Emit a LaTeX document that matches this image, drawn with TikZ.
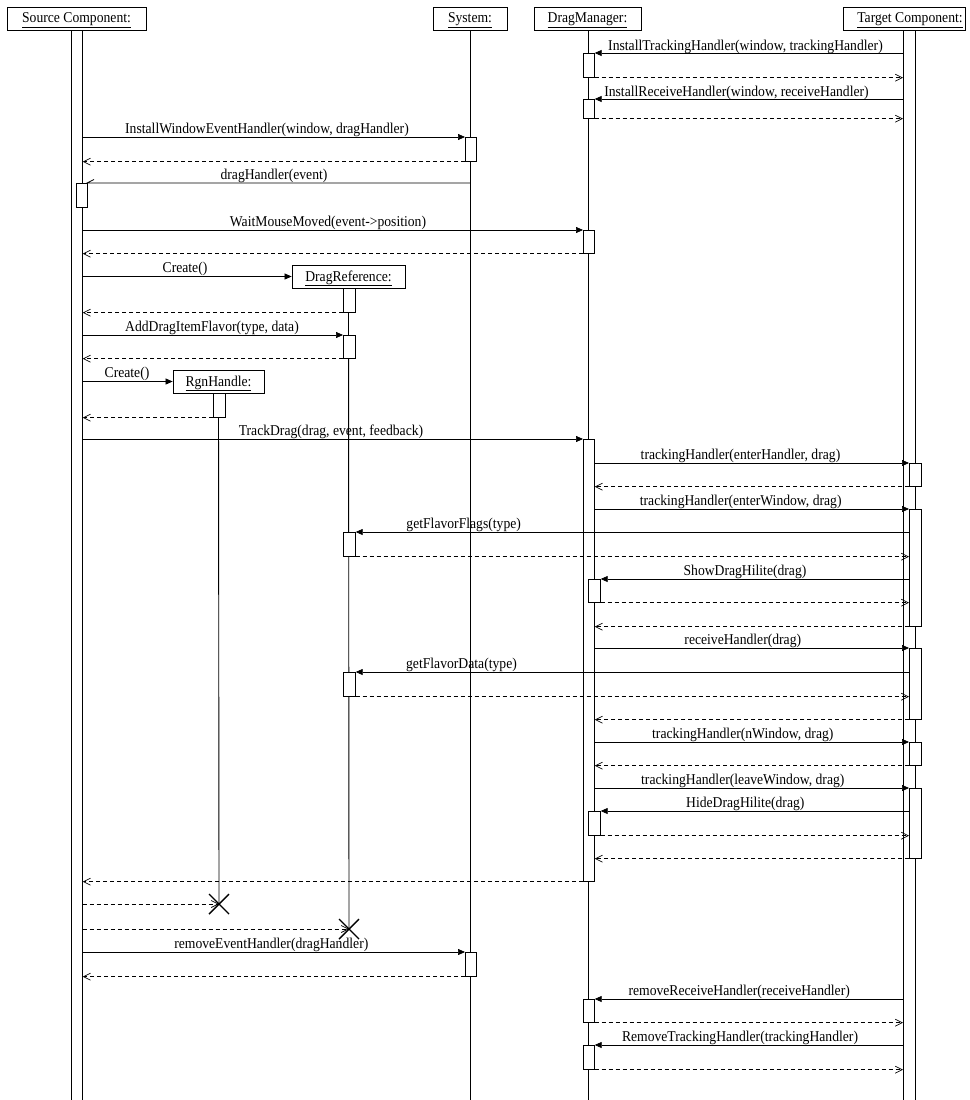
\documentclass[tikz,border=0pt]{standalone}
\usepackage{fontspec}
\usepackage{graphicx}
\setmainfont{Liberation Serif}
\usetikzlibrary{arrows.meta,calc}
\newcommand{\lbl}{\fontsize{15}{17}\selectfont}
\newcommand{\cond}[1]{\scalebox{0.91}[1]{#1}}
\tikzset{
  hdr/.style={draw, line width=0.8pt, inner sep=0pt, minimum height=23pt, fill=white},
  htext/.style={anchor=base, inner sep=0pt, font=\lbl},
  act/.style={draw, fill=white, minimum width=11pt, inner sep=0pt, anchor=north west, line width=0.7pt},
  life/.style={line width=0.9pt},
  call/.style={-{Triangle[length=7pt,width=6pt]}, line width=0.7pt},
  ret/.style={-{Straight Barb[length=7pt,width=7pt,line width=0.7pt]}, dash pattern=on 4pt off 3pt, line width=0.7pt},
  solid msg/.style={line width=0.7pt},
  msg/.style={anchor=base, inner sep=0pt, font=\lbl},
  destroy/.style={line width=1.4pt},
}
\begin{document}
\begin{tikzpicture}[x=1pt,y=-1pt]
\useasboundingbox (0,0) rectangle (969,1100);
\fill[white] (0,0) rectangle (969,1100);

% ---- headers ----
\node[hdr, minimum width=139pt] (hsrc) at (76.5,18.5) {};
\node[htext] (tsrc) at (76.5,23) {\cond{\underline{Source Component:}}};
\node[hdr, minimum width=74pt] (hsys) at (470,18.5) {};
\node[htext] (tsys) at (470,23) {\cond{\underline{System:}}};
\node[hdr, minimum width=107pt] (hdm) at (587.5,18.5) {};
\node[htext] (tdm) at (587.5,23) {\cond{\underline{DragManager:}}};
\node[hdr, minimum width=122pt] (htgt) at (904,18.5) {};
\node[htext] (ttgt) at (910,23) {\cond{\underline{Target Component:}}};

% ---- main bars ----
\node[act, minimum height=1080pt] (sbar) at (71,30) {};
\node[act, minimum width=12pt, minimum height=1080pt] (tbar) at (903,30) {};

% ---- lifelines ----
\draw[life] (hsys.south) -- (hsys.south |- sbar.south);
\draw[life] (588,30) coordinate (dmtop) -- (dmtop |- sbar.south);

% created objects
\node[hdr, minimum width=113pt] (hdref) at (348.5,276.5) {};
\node[htext] (tdref) at (348.5,281) {\cond{\underline{DragReference:}}};
\node[hdr, minimum width=91pt] (hrgn) at (218.5,381.5) {};
\node[htext] (trgn) at (218.5,386) {\cond{\underline{RgnHandle:}}};
\coordinate (x1) at (219,904);
\coordinate (x2) at (349,929);
\draw[life] (hrgn.south) -- (x1);
\draw[life] (hdref.south) -- (x2);

% ---- activations ----
\node[act, minimum height=24pt] (a1) at (583,53) {};
\node[act, minimum height=19pt] (a2) at (583,99) {};
\node[act, minimum height=24pt] (a3) at (465,137) {};
\node[act, minimum height=23pt] (a5) at (583,230) {};
\node[act, minimum width=12pt, minimum height=24pt] (a6) at (343,288) {};
\node[act, minimum width=12pt, minimum height=23pt] (a7) at (343,335) {};
\node[act, minimum width=12pt, minimum height=24pt] (a8) at (213,393) {};
\node[act, minimum height=442pt] (a9) at (583,439) {};
\node[act, minimum width=12pt, minimum height=23pt] (a10) at (909,463) {};
\node[act, minimum width=12pt, minimum height=117pt] (a11) at (909,509) {};
\node[act, minimum width=12pt, minimum height=24pt] (a12) at (343,532) {};
\node[act, minimum width=12pt, minimum height=23pt] (a13) at (588,579) {};
\node[act, minimum width=12pt, minimum height=71pt] (a14) at (909,648) {};
\node[act, minimum width=12pt, minimum height=24pt] (a15) at (343,672) {};
\node[act, minimum width=12pt, minimum height=23pt] (a16) at (909,742) {};
\node[act, minimum width=12pt, minimum height=70pt] (a17) at (909,788) {};
\node[act, minimum width=12pt, minimum height=24pt] (a18) at (588,811) {};
\node[act, minimum height=24pt] (a19) at (465,952) {};
\node[act, minimum height=23pt] (a20) at (583,999) {};
\node[act, minimum height=24pt] (a21) at (583,1045) {};

% ---- messages ----
\draw[call] (a1.north east -| tbar.west) -- (a1.north east);
\node[msg] (l1) at (745.5,50.5) {\cond{InstallTrackingHandler(window, trackingHandler)}};
\draw[ret] (a1.south east) -- (a1.south east -| tbar.west);

\draw[call] (a2.north east -| tbar.west) -- (a2.north east);
\node[msg] (l2) at (736.5,96.5) {\cond{InstallReceiveHandler(window, receiveHandler)}};
\draw[ret] (a2.south east) -- (a2.south east -| tbar.west);

\draw[call] (a3.north west -| sbar.east) -- (a3.north west);
\node[msg] (l3) at (267,133.5) {\cond{InstallWindowEventHandler(window, dragHandler)}};
\draw[ret] (a3.south west) -- (a3.south west -| sbar.east);

\coordinate (a4tl) at (76,183);
\coordinate (a4tr) at (87,183);
\draw[solid msg] (a4tr -| hsys.south) -- (a4tr) -- ++(7,-3.5);
\node[act, minimum height=24pt] (a4) at (a4tl) {};
\node[msg] (l4) at (274,179.5) {\cond{dragHandler(event)}};

\draw[call] (a5.north west -| sbar.east) -- (a5.north west);
\node[msg] (l5) at (328,226.5) {\cond{WaitMouseMoved(event->position)}};
\draw[ret] (a5.south west) -- (a5.south west -| sbar.east);

\draw[call] (hdref.west -| sbar.east) -- (hdref.west);
\node[msg] (l6) at (185,272.5) {\cond{Create()}};
\draw[ret] (a6.south west) -- (a6.south west -| sbar.east);

\draw[call] (a7.north west -| sbar.east) -- (a7.north west);
\node[msg] (l7) at (212,331.5) {\cond{AddDragItemFlavor(type, data)}};
\draw[ret] (a7.south west) -- (a7.south west -| sbar.east);

\draw[call] (hrgn.west -| sbar.east) -- (hrgn.west);
\node[msg] (l8) at (127,377.5) {\cond{Create()}};
\draw[ret] (a8.south west) -- (a8.south west -| sbar.east);

\draw[call] (a9.north west -| sbar.east) -- (a9.north west);
\node[msg] (l9) at (331,435.5) {\cond{TrackDrag(drag, event, feedback)}};

\draw[call] (a10.north west -| a9.east) -- (a10.north west);
\node[msg] (l10) at (740.5,459.5) {\cond{trackingHandler(enterHandler, drag)}};
\draw[ret] (a10.south west) -- (a10.south west -| a9.east);

\draw[call] (a11.north west -| a9.east) -- (a11.north west);
\node[msg] (l11) at (740.7,505.5) {\cond{trackingHandler(enterWindow, drag)}};

\draw[call] (a12.north east -| a11.west) -- (a12.north east);
\node[msg] (l12) at (463.7,528.5) {\cond{getFlavorFlags(type)}};
\draw[ret] (a12.south east) -- (a12.south east -| a11.west);

\draw[call] (a13.north east -| a11.west) -- (a13.north east);
\node[msg] (l13) at (745,575.5) {\cond{ShowDragHilite(drag)}};
\draw[ret] (a13.south east) -- (a13.south east -| a11.west);
\draw[ret] (a11.south west) -- (a11.south west -| a9.east);

\draw[call] (a14.north west -| a9.east) -- (a14.north west);
\node[msg] (l14) at (742.8,644.5) {\cond{receiveHandler(drag)}};

\draw[call] (a15.north east -| a14.west) -- (a15.north east);
\node[msg] (l15) at (461.5,668.5) {\cond{getFlavorData(type)}};
\draw[ret] (a15.south east) -- (a15.south east -| a14.west);
\draw[ret] (a14.south west) -- (a14.south west -| a9.east);

\draw[call] (a16.north west -| a9.east) -- (a16.north west);
\node[msg] (l16) at (742.8,738.5) {\cond{trackingHandler(nWindow, drag)}};
\draw[ret] (a16.south west) -- (a16.south west -| a9.east);

\draw[call] (a17.north west -| a9.east) -- (a17.north west);
\node[msg] (l17) at (742.8,784.5) {\cond{trackingHandler(leaveWindow, drag)}};

\draw[call] (a18.north east -| a17.west) -- (a18.north east);
\node[msg] (l18) at (745.3,807.5) {\cond{HideDragHilite(drag)}};
\draw[ret] (a18.south east) -- (a18.south east -| a17.west);
\draw[ret] (a17.south west) -- (a17.south west -| a9.east);

\draw[ret] (a9.south west) -- (a9.south west -| sbar.east);

\draw[ret] (x1 -| sbar.east) -- (x1);
\draw[destroy] ($(x1)+(-10,-10)$) -- ($(x1)+(10,10)$);
\draw[destroy] ($(x1)+(-10,10)$) -- ($(x1)+(10,-10)$);
\draw[ret] (x2 -| sbar.east) -- (x2);
\draw[destroy] ($(x2)+(-10,-10)$) -- ($(x2)+(10,10)$);
\draw[destroy] ($(x2)+(-10,10)$) -- ($(x2)+(10,-10)$);

\draw[call] (a19.north west -| sbar.east) -- (a19.north west);
\node[msg] (l19) at (271.3,948.5) {\cond{removeEventHandler(dragHandler)}};
\draw[ret] (a19.south west) -- (a19.south west -| sbar.east);

\draw[call] (a20.north east -| tbar.west) -- (a20.north east);
\node[msg] (l20) at (739.2,995.5) {\cond{removeReceiveHandler(receiveHandler)}};
\draw[ret] (a20.south east) -- (a20.south east -| tbar.west);

\draw[call] (a21.north east -| tbar.west) -- (a21.north east);
\node[msg] (l21) at (740,1041.5) {\cond{RemoveTrackingHandler(trackingHandler)}};
\draw[ret] (a21.south east) -- (a21.south east -| tbar.west);
\end{tikzpicture}
\end{document}
